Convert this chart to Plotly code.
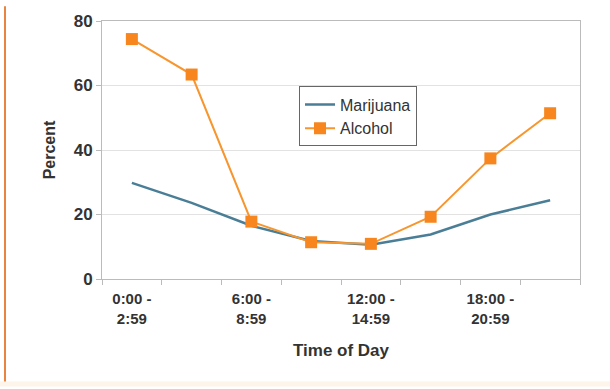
import plotly.graph_objects as go

categories = ["0:00 - 2:59", "3:00 - 5:59", "6:00 - 8:59", "9:00 - 11:59",
              "12:00 - 14:59", "15:00 - 17:59", "18:00 - 20:59", "21:00 - 23:59"]
marijuana = [29.8, 23.6, 16.5, 11.8, 10.6, 13.8, 20.0, 24.4]
alcohol = [74.4, 63.4, 17.8, 11.4, 10.9, 19.3, 37.4, 51.4]
y_ticks = [0, 20, 40, 60, 80]
x_label_idx = [0, 2, 4, 6]
x_ticktext = ["0:00 -<br>2:59", "6:00 -<br>8:59", "12:00 -<br>14:59", "18:00 -<br>20:59"]

idx = list(range(len(categories)))

fig = go.Figure()
fig.add_trace(go.Scatter(
    x=idx, y=marijuana, name="Marijuana", mode="lines",
    line=dict(color="#4a7e96", width=2.5),
    text=categories, hoverinfo="text+y"))
fig.add_trace(go.Scatter(
    x=idx, y=alcohol, name="Alcohol", mode="lines+markers",
    line=dict(color="#f7962e", width=2),
    marker=dict(symbol="square", size=12, color="#f7861e"),
    text=categories, hoverinfo="text+y"))

L, R, T, B = 102, 30, 15, 110
W, H = 610, 389
pw = W - L - R
ph = H - T - B
FONT = "Liberation Sans, Arial, sans-serif"

fig.update_layout(
    width=W, height=H,
    margin=dict(l=L, r=R, t=T, b=B),
    paper_bgcolor="white", plot_bgcolor="white",
    font=dict(family=FONT, color="#333333"),
    showlegend=True,
    legend=dict(
        x=(299 - L) / pw, y=(H - B - 82) / ph, xanchor="left", yanchor="top",
        bgcolor="white", bordercolor="#666666", borderwidth=1,
        font=dict(size=16, color="#333333"),
        itemwidth=30, tracegroupgap=4,
    ),
    xaxis=dict(
        range=[-0.5, 7.5], tickmode="array", tickvals=x_label_idx, ticktext=x_ticktext,
        ticks="", showgrid=False, zeroline=False,
        showline=True, linecolor="#bbbbbb", linewidth=1, mirror=True,
        tickfont=dict(size=15, color="#333333", family=FONT, weight="bold"),
        ticklabelstandoff=6,
        minor=dict(tick0=-0.5, dtick=1, ticks="outside", ticklen=5, tickcolor="#bbbbbb", showgrid=False),
        title=dict(text="<b>Time of Day</b>", font=dict(size=17, color="#333333"), standoff=18),
    ),
    yaxis=dict(
        range=[0, 80], tickmode="array", tickvals=y_ticks,
        ticks="outside", ticklen=5, tickcolor="#bbbbbb",
        showgrid=True, gridcolor="#e2e2e2", zeroline=False,
        showline=True, linecolor="#bbbbbb", linewidth=1, mirror=True,
        tickfont=dict(size=17, color="#333333", family=FONT, weight="bold"),
        title=dict(text="<b>Percent</b>", font=dict(size=16, color="#333333"), standoff=14),
    ),
)

# decorative orange frame line on the left and faint band at the bottom
fig.add_shape(type="line", xref="paper", yref="paper",
              x0=(5 - L) / pw, x1=(5 - L) / pw,
              y0=(H - B - 0) / ph, y1=(H - B - 384) / ph,
              line=dict(color="#e8843f", width=2), layer="above")
fig.add_shape(type="rect", xref="paper", yref="paper",
              x0=(0 - L) / pw, x1=(W - L) / pw,
              y0=(H - B - 384) / ph, y1=(H - B - 389) / ph,
              fillcolor="#fdf4ea", line=dict(width=0), layer="below")

fig.write_html("out.html")
